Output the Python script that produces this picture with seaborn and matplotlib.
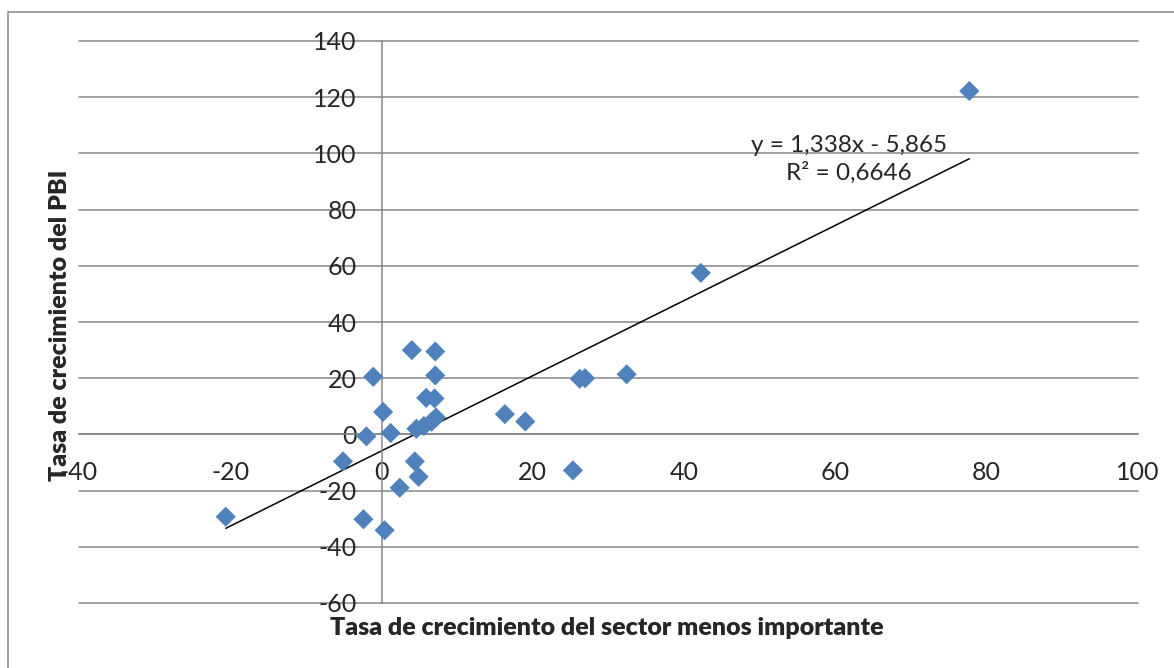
import numpy as np
import matplotlib
matplotlib.use("Agg")
import matplotlib.pyplot as plt
import seaborn as sns
from matplotlib.patches import Rectangle

# --- Data ---
sector_growth = [-20.6, 4.0, 7.1, -1.1, 7.1, 5.9, 7.0, 0.2, -2.0, 1.2,
                 4.6, 5.6, 6.6, 7.2, -5.1, 4.4, 4.9, 2.4, -2.4, 0.4,
                 16.3, 19.0, 25.3, 26.2, 26.9, 32.4, 42.2, 77.7]
gdp_growth = [-29.3, 30.0, 29.5, 20.5, 21.0, 13.0, 12.8, 8.0, -0.7, 0.5,
              2.0, 3.0, 4.5, 6.0, -9.6, -9.6, -15.1, -19.0, -30.2, -34.1,
              7.2, 4.6, -12.8, 19.8, 20.0, 21.4, 57.5, 122.2]
slope = 1.338
intercept = -5.865
r_squared = 0.6646
x_ticks = [-40, -20, 0, 20, 40, 60, 80, 100]
y_ticks = [-60, -40, -20, 0, 20, 40, 60, 80, 100, 120, 140]

sns.set_theme(style="white")
plt.rcParams['font.family'] = ['Lato', 'DejaVu Sans']
plt.rcParams['axes.unicode_minus'] = False

grey = "#868686"
fig = plt.figure(figsize=(11.74, 6.68), dpi=100)
ax = fig.add_axes([79 / 1174, 65 / 668, 1059 / 1174, 562 / 668])

# --- Scatter + trend line ---
sns.scatterplot(x=sector_growth, y=gdp_growth, marker="D", s=105,
                color="#4F81BD", edgecolor="none", zorder=3, ax=ax)
xs = np.array([min(sector_growth), max(sector_growth)])
ax.plot(xs, slope * xs + intercept, color="black", lw=1.1, zorder=2)

eq = f"y = {slope:.3f}x - {abs(intercept):.3f}".replace(".", ",")
r2 = f"R² = {r_squared:.4f}".replace(".", ",")
ax.text(61.8, 97.8, eq + "\n" + r2, ha="center", va="center",
        multialignment="center", fontsize=17.5, linespacing=1.3)

# --- Axes styling (Excel-like, axes crossing at origin) ---
ax.set_xlim(-40, 100)
ax.set_ylim(-60, 140)
ax.set_xticks(x_ticks)
ax.set_yticks(y_ticks)
ax.spines['left'].set_position(('data', 0))
ax.spines['bottom'].set_position(('data', 0))
ax.spines['top'].set_visible(False)
ax.spines['right'].set_visible(False)
for side in ['left', 'bottom']:
    ax.spines[side].set_color(grey)
    ax.spines[side].set_linewidth(1.1)
ax.tick_params(axis='y', length=0, pad=18, labelsize=18)
ax.tick_params(axis='x', length=0, pad=19, labelsize=18)
ax.yaxis.grid(True, color=grey, lw=1.1)
ax.xaxis.grid(False)
for gl in ax.yaxis.get_gridlines():
    gl.set_clip_on(False)
ax.set_axisbelow(True)

fig.text(607 / 1174, 1 - 628 / 668, "Tasa de crecimiento del sector menos importante",
         ha="center", va="center", fontsize=18, fontweight="heavy")
fig.text(60 / 1174, 1 - 325 / 668, "Tasa de crecimiento del PBI",
         ha="center", va="center", rotation=90, fontsize=18, fontweight="heavy")

# outer chart frame (right/bottom edges fall outside the image)
fig.patches.append(Rectangle((8 / 1174, -0.1), 1.2, 1 - 12 / 668 + 0.1,
                             transform=fig.transFigure, fill=False,
                             edgecolor=grey, lw=1.1))

fig.savefig("out.png", dpi=100)
